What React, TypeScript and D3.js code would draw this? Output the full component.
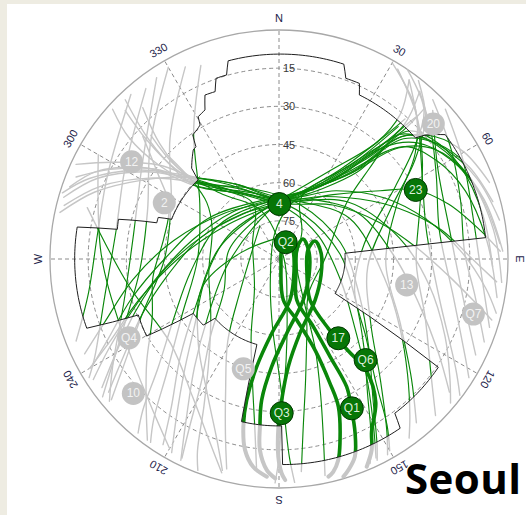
import React from "react";
import * as d3 from "d3";

type AzEl = [number, number];

// ---- chart data (azimuth °, elevation °) ----
const elevationRings = [15, 30, 45, 60, 75];
const azimuthTicks = [0, 30, 60, 90, 120, 150, 180, 210, 240, 270, 300, 330];
const azimuthTickLabels = ["N", "30", "60", "E", "120", "150", "S", "210", "240", "W", "300", "330"];

// horizon mask (obstruction outline), clockwise from north
const horizonMask: AzEl[] = [
  [345.6, 9.6], [18.4, 9.3], [20.3, 14.3], [24.6, 14.1], [26.1, 18.2], [48.4, 18.3],
  [49.7, 14.7], [53.2, 8.4], [84.1, 8.4], [84.4, 42.9], [84.9, 62], [85.1, 64],
  [121.5, 64.2], [124.2, 14.3], [143.1, 14.2], [144.4, 8.2], [179, 9.2], [179.1, 24.4],
  [193, 24.4], [194.5, 55.3], [227.2, 55.7], [228.9, 50.5], [237.6, 50.1], [239.8, 29.8],
  [248.3, 30.5], [250.2, 9.7], [279, 9.7], [280.4, 25.4], [283.9, 25], [286.5, 39.9],
  [289, 39.8], [290.3, 45], [314.4, 45.5], [316.1, 40.5], [321.8, 35.5], [323.5, 35.1],
  [325.2, 30.6], [327.5, 29.9], [329.5, 28.9], [330.4, 25.7], [333.6, 24.6], [335.7, 19.3],
  [339.1, 19.6], [340.8, 14.8], [344.1, 14.8],
];

// GPS passes rising in the north-west, cresting north of zenith, setting east
const nwToEastTracks: AzEl[][] = [
  [[289, 3], [296, 11], [305, 28], [311, 46], [329, 60], [0, 68], [40, 57], [56, 42], [63, 30], [72, 20], [82, 10], [88, 3]],
  [[286, 2], [294, 12], [303, 27], [312, 42], [330, 56], [5, 66], [40, 55], [60, 42], [75, 30], [88, 18], [98, 8], [104, 2]],
  [[284, 3], [292, 14], [302, 30], [313, 46], [335, 62], [8, 67], [50, 55], [80, 42], [100, 30], [115, 18], [125, 8], [130, 2]],
  [[282, 2], [290, 13], [300, 28], [310, 40], [330, 56], [355, 66], [20, 66], [60, 58], [100, 48], [120, 35], [132, 22], [140, 10], [144, 3]],
  [[295, 2], [300, 14], [308, 30], [316, 48], [340, 64], [10, 68], [45, 60], [70, 48], [85, 36], [95, 24], [102, 12], [106, 3]],
  [[292, 4], [298, 15], [306, 30], [312, 44], [332, 59], [2, 67], [35, 60], [58, 47], [70, 36], [80, 25], [90, 14], [96, 4]],
  [[287, 1], [293, 9], [302, 24], [310, 38], [325, 54], [355, 66], [30, 63], [60, 54], [90, 44], [108, 32], [120, 18], [128, 5]],
];

// GPS passes rising in the east / north-east, cresting north of zenith, setting south-west
const neToWestTracks: AzEl[][] = [
  [[92, 6], [78, 8], [63, 10], [52, 13.5], [45, 19], [42, 44], [31, 58], [0, 68], [305, 66], [271, 51], [254, 33], [244, 16], [240, 4]],
  [[100, 3], [85, 8], [70, 12], [58, 17], [48, 24], [38, 47], [25, 60], [355, 67], [310, 62], [280, 48], [262, 32], [250, 17], [244, 5]],
  [[88, 2], [74, 6], [60, 11], [50, 16], [44, 22], [41, 36], [30, 57], [5, 66], [330, 68], [290, 60], [265, 45], [250, 30], [240, 16], [234, 4]],
  [[80, 2], [68, 6], [56, 12], [46, 20], [40, 45], [20, 62], [350, 66], [300, 58], [270, 45], [255, 30], [245, 16], [240, 5]],
  [[96, 2], [82, 5], [66, 9], [55, 15], [47, 26], [40, 46], [22, 61], [350, 67], [300, 63], [262, 55], [240, 42], [228, 26], [222, 10], [219, 2]],
  [[75, 3], [64, 7], [54, 13], [46, 22], [40, 46], [24, 60], [358, 66], [315, 64], [282, 55], [262, 42], [250, 28], [242, 14], [237, 3]],
  [[86, 3], [72, 7], [60, 12], [50, 19], [43, 30], [36, 50], [15, 64], [340, 70], [295, 68], [255, 60], [232, 48], [220, 32], [213, 16], [209, 3]],
  [[70, 2], [60, 6], [52, 12], [45, 22], [41, 38], [28, 58], [0, 68], [320, 67], [285, 58], [262, 46], [248, 32], [238, 18], [232, 5]],
];

// high passes crossing the zenith region diagonally
const steepTracks: AzEl[][] = [
  [[40, 4], [43, 18], [41, 34], [33, 52], [0, 68], [321, 74], [261, 69], [231, 54], [218, 36], [210, 17], [206, 2]],
  [[316, 3], [313, 18], [311, 32], [311, 46], [335, 62], [10, 70], [60, 72], [110, 64], [132, 50], [143, 33], [150, 16], [154, 3]],
  [[36, 3], [40, 16], [40, 30], [30, 50], [10, 64], [340, 70], [280, 66], [240, 52], [225, 35], [216, 18], [212, 4]],
  [[312, 2], [309, 14], [308, 30], [311, 44], [338, 60], [20, 67], [75, 65], [115, 55], [135, 40], [146, 24], [152, 8], [154, 2]],
  [[314, 6], [312, 20], [311, 36], [314, 48], [345, 64], [30, 70], [85, 66], [118, 56], [136, 42], [147, 26], [153, 10], [156, 2]],
];

// low passes over the western sky
const westTracks: AzEl[][] = [
  [[326, 4], [304, 25], [280, 32], [255, 27], [237, 12], [230, 3]],
  [[330, 3], [312, 22], [290, 35], [265, 35], [245, 22], [235, 8], [232, 2]],
  [[322, 5], [300, 20], [280, 25], [258, 20], [242, 8], [238, 2]],
  [[334, 6], [318, 26], [298, 42], [270, 45], [248, 32], [235, 15], [230, 4]],
  [[318, 3], [296, 15], [278, 18], [260, 14], [248, 4]],
  [[338, 8], [326, 30], [305, 52], [270, 58], [240, 46], [225, 28], [218, 10], [215, 2]],
];

// low passes over the eastern sky
const eastTracks: AzEl[][] = [
  [[36, 3], [46, 14], [60, 25], [79, 31], [104, 25], [122, 8], [127, 1]],
  [[32, 2], [44, 12], [56, 22], [72, 32], [92, 36], [112, 28], [128, 14], [135, 3]],
  [[40, 4], [50, 12], [62, 20], [80, 26], [102, 20], [118, 7], [122, 2]],
  [[30, 1], [42, 10], [52, 22], [64, 38], [92, 48], [118, 36], [132, 20], [140, 6]],
  [[44, 3], [58, 10], [72, 15], [88, 17], [100, 12], [112, 3]],
  [[38, 1], [46, 10], [54, 24], [66, 42], [95, 55], [125, 46], [140, 28], [148, 10], [151, 2]],
  [[34, 0], [44, 8], [50, 20], [58, 36], [80, 56], [112, 58], [132, 44], [142, 28], [147, 12], [150, 3]],
  [[48, 2], [62, 8], [78, 12], [95, 10], [108, 3]],
  [[46, 6], [60, 18], [80, 22], [102, 16], [116, 4]],
];

// near-overhead passes setting due south
const centerTracks: AzEl[][] = [
  [[44, 8], [44, 20], [40, 36], [30, 55], [12, 68], [350, 80], [200, 80], [185, 62], [180, 45], [178, 28], [177, 12], [176, 2]],
  [[318, 10], [314, 25], [312, 40], [318, 52], [335, 66], [300, 78], [220, 75], [200, 58], [192, 40], [188, 22], [186, 6]],
  [[44, 12], [43, 25], [45, 40], [50, 55], [90, 72], [140, 72], [160, 58], [168, 40], [172, 22], [174, 6]],
  [[42, 20], [38, 42], [20, 64], [40, 76], [100, 83], [150, 70], [158, 52], [163, 34], [166, 18], [168, 3]],
  [[314, 20], [312, 36], [318, 55], [340, 70], [90, 88], [170, 72], [176, 50], [179, 30], [180, 12], [181, 2]],
];

// passes setting in the south-west
const southWestTracks: AzEl[][] = [
  [[313, 30], [312, 44], [308, 54], [295, 61], [260, 62], [230, 55], [215, 42], [207, 25], [203, 8], [201, 1]],
  [[42, 16], [40, 30], [34, 48], [15, 64], [330, 72], [280, 70], [240, 65], [222, 50], [212, 32], [208, 15], [206, 3]],
  [[312, 18], [305, 32], [296, 42], [280, 44], [262, 40], [245, 35], [232, 24], [222, 12], [216, 2]],
  [[300, 8], [272, 20], [245, 22], [222, 14], [210, 4]],
  [[285, 12], [260, 30], [232, 36], [212, 26], [200, 12], [195, 3]],
  [[20, 80], [280, 75], [250, 58], [225, 45], [208, 30], [199, 15], [195, 4]],
  [[330, 75], [230, 70], [212, 52], [202, 34], [197, 18], [194, 5]],
];

// QZSS figure-eight ground tracks
const qzsTracks: AzEl[][] = [
  [[183.2, 4.3], [187.1, 7.7], [190.1, 13.8], [192, 22.6], [192.9, 33.1], [191.7, 46.8], [185.6, 60.6], [165, 73.3],
    [131, 82.2], [57.3, 83.5], [26.6, 82.1], [15.3, 85.5], [161.6, 87.5], [174, 73.8], [163.8, 65], [158.4, 51.5],
    [157.7, 37.2], [158.1, 27.4], [161.7, 13.7], [163.6, 7.6], [165.7, 3.7], [167.2, 2.3]],
  [[181, 3.8], [183.3, 6.9], [185.7, 14.5], [186.5, 23.7], [187, 34.2], [183.9, 47.6], [174.1, 60.6], [149.3, 71.3],
    [118, 76.6], [76.9, 77.9], [50.2, 77.7], [58.6, 81.7], [122.9, 82], [156.6, 72.4], [153.1, 60.2], [152.4, 46.7],
    [152.1, 33.2], [154.1, 24.9], [156.4, 15.3], [159, 6.8], [161.8, 2.7], [163.5, 0.8]],
  [[178.4, 3.1], [179.3, 5.8], [180.2, 12.3], [180.2, 24.1], [178.9, 34.6], [175.1, 47.5], [164.2, 59.7], [138.7, 68.5],
    [110.9, 72.3], [81.9, 73.3], [63.4, 74.2], [72.8, 78.1], [114.9, 77.9], [142.9, 69.8], [144.6, 56.7], [143, 45],
    [142, 34], [146, 22], [151.8, 13], [154.1, 6.6], [157.1, 1.4]],
];

// satellite positions
const satIds = ["4", "Q2", "23", "17", "Q6", "Q1", "Q3", "12", "2", "20", "13", "Q7", "Q4", "Q5", "10"];
const satAz = [0.3, 21.8, 63.2, 143.2, 139.4, 154, 179, 303.4, 296.1, 48.8, 101.5, 105.8, 242.3, 198, 227.3];
const satEl = [68.4, 82.9, 29.8, 51.1, 37.7, 24.7, 29.4, 20.6, 39.8, 9.4, 38.8, 10.6, 23.4, 44.6, 12.1];

const siteName = "Seoul";

// ---- geometry ----
const WIDTH = 526;
const HEIGHT = 515;
const CX = 279;
const CY = 259;
const R = 229;

const rScale = d3.scaleLinear().domain([90, 0]).range([0, R]);

const toXY = ([az, el]: AzEl): [number, number] => {
  const r = rScale(el);
  const a = (az * Math.PI) / 180;
  return [CX + r * Math.sin(a), CY - r * Math.cos(a)];
};

const trackLine = d3
  .line<AzEl>()
  .x((d) => toXY(d)[0])
  .y((d) => toXY(d)[1])
  .curve(d3.curveCatmullRom.alpha(0.5));

// walk the mask edges in az/el so constant-elevation steps follow the rings
function maskOutline(verts: AzEl[]): [number, number][] {
  const out: [number, number][] = [];
  verts.forEach((v, i) => {
    const w = verts[(i + 1) % verts.length];
    const da = ((w[0] - v[0] + 540) % 360) - 180;
    const n = Math.max(1, Math.ceil(Math.abs(da)));
    for (let k = 0; k < n; k++) {
      const t = k / n;
      out.push(toXY([v[0] + da * t, v[1] + (w[1] - v[1]) * t]));
    }
  });
  return out;
}

const maskPts = maskOutline(horizonMask);
const maskPath = (d3.line()(maskPts) as string) + "Z";
const circlePath = `M${CX - R},${CY}A${R},${R} 0 1 0 ${CX + R},${CY}A${R},${R} 0 1 0 ${CX - R},${CY}Z`;

const thinTracks: AzEl[][] = [
  ...nwToEastTracks,
  ...neToWestTracks,
  ...steepTracks,
  ...westTracks,
  ...eastTracks,
  ...centerTracks,
  ...southWestTracks,
];

const GREEN = "#0a870a";
const GRAY = "#c6c6c6";
const FONT = "'Liberation Sans', Arial, sans-serif";

export default function App() {
  const LABEL_R = 241;
  return (
    <>
      <style>{`body{margin:0}`}</style>
      <svg width={WIDTH} height={HEIGHT} style={{ display: "block" }}>
        <defs>
          <clipPath id="inside-mask">
            <path d={maskPath} />
          </clipPath>
          <clipPath id="outside-mask">
            <path d={circlePath + maskPath} clipRule="evenodd" />
          </clipPath>
        </defs>
        <rect width={WIDTH} height={HEIGHT} fill="#ffffff" />
        <rect width={WIDTH} height={4} fill="#eeece2" />
        <rect width={7} height={HEIGHT} fill="#eeece2" />

        {/* grid */}
        <g fill="none" stroke="#8c8c8c" strokeWidth={1} strokeDasharray="4 3">
          {elevationRings.map((e) => (
            <circle key={e} cx={CX} cy={CY} r={rScale(e)} />
          ))}
          {azimuthTicks.map((az) => {
            const [x, y] = toXY([az, 0]);
            return <line key={az} x1={CX} y1={CY} x2={x} y2={y} />;
          })}
        </g>
        <circle cx={CX} cy={CY} r={R} fill="none" stroke="#a8a8a8" strokeWidth={1.3} />

        {/* blocked portions of the tracks */}
        <g clipPath="url(#outside-mask)" fill="none" stroke={GRAY} strokeLinecap="round">
          {thinTracks.map((t, i) => (
            <path key={i} d={trackLine(t) as string} strokeWidth={1.4} />
          ))}
          {qzsTracks.map((t, i) => (
            <path key={"q" + i} d={trackLine(t) as string} strokeWidth={4} />
          ))}
        </g>

        {/* visible portions of the tracks */}
        <g clipPath="url(#inside-mask)" fill="none" stroke={GREEN} strokeLinecap="round">
          {thinTracks.map((t, i) => (
            <path key={i} d={trackLine(t) as string} strokeWidth={1.15} />
          ))}
          {qzsTracks.map((t, i) => (
            <path key={"q" + i} d={trackLine(t) as string} strokeWidth={3.6} />
          ))}
        </g>

        {/* horizon mask outline */}
        <path d={maskPath} fill="none" stroke="#1e1e1e" strokeWidth={1} />

        {/* elevation labels */}
        <g fontFamily={FONT} fontSize={11} fill="#3a3a3a">
          {elevationRings.map((e) => (
            <text key={e} x={CX + 4} y={CY - rScale(e)} dominantBaseline="central">
              {e}
            </text>
          ))}
        </g>

        {/* azimuth labels */}
        <g fontFamily={FONT} fontSize={11} fill="#23234a" textAnchor="middle">
          {azimuthTicks.map((az, i) => {
            const [x, y] = [CX + LABEL_R * Math.sin((az * Math.PI) / 180), CY - LABEL_R * Math.cos((az * Math.PI) / 180)];
            return (
              <text key={az} transform={`translate(${x},${y}) rotate(${az})`} dominantBaseline="central">
                {azimuthTickLabels[i]}
              </text>
            );
          })}
        </g>

        {/* satellites */}
        <g fontFamily={FONT} fontSize={12} textAnchor="middle">
          {satIds.map((id, i) => {
            const [x, y] = toXY([satAz[i], satEl[i]]);
            const visible = d3.polygonContains(maskPts, [x, y]);
            return (
              <g key={id} transform={`translate(${x},${y})`}>
                <circle
                  r={11.5}
                  fill={visible ? "#077607" : "#c3c3c3"}
                  stroke={visible ? "#003800" : "none"}
                  strokeWidth={1}
                />
                <text dominantBaseline="central" fill={visible ? "#dcefdc" : "#f2f2f2"}>
                  {id}
                </text>
              </g>
            );
          })}
        </g>

        <text x={405} y={494} fontFamily="'Open Sans', sans-serif" fontWeight={700} fontSize={42} fill="#000" textLength={116}>
          {siteName}
        </text>
      </svg>
    </>
  );
}
